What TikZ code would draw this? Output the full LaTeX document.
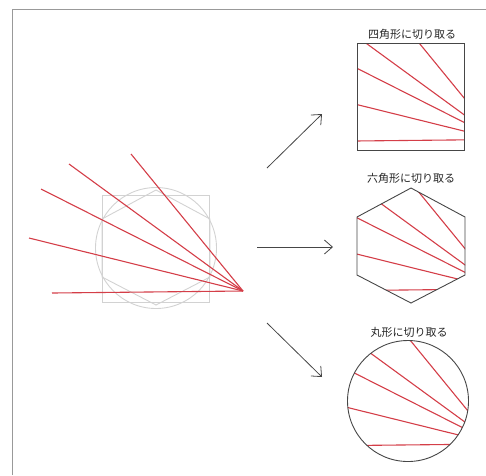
\documentclass[tikz,border=0pt]{standalone}
\usepackage{fontspec}
\newfontfamily\jpfont{Noto Sans CJK JP}
\usetikzlibrary{arrows.meta}

\definecolor{fanred}{RGB}{212,62,72}
\definecolor{edgegray}{RGB}{70,70,70}

% the five cut lines, all meeting in one point
\newcommand{\fanlines}{%
  \foreach \sx/\sy in {52/293,29/238,41/189,69/164,131/154}
    \draw[fan] (243,291) -- (\sx,\sy);}
\newcommand{\sqpath}{(102.5,195) rectangle (209.5,302)}
\newcommand{\hexpath}{(156,190) -- (210,219) -- (210,277) -- (156,305) -- (102,277) -- (102,219) -- cycle}
\newcommand{\cirpath}{(156,248) circle (60.5)}

\begin{document}
\begin{tikzpicture}[x=1pt,y=-1pt,
  fan/.style={fanred,line width=1.1pt},
  ghost/.style={draw=gray!35,line width=0.9pt},
  outline/.style={draw=edgegray,line width=0.9pt},
  arr/.style={draw=edgegray,line width=0.8pt,-{Straight Barb[length=8pt,width=14pt]}},
  title/.style={font=\jpfont\fontsize{11}{13}\selectfont,text=black!85,inner sep=1pt}]
\useasboundingbox (0,0) rectangle (486,475);
\draw[gray!80,line width=1pt] (12,475) -- (12,9) -- (486,9);

% source figure
\draw[ghost] \sqpath;
\draw[ghost] \cirpath;
\draw[ghost] \hexpath;
\fanlines

% square
\begin{scope}[shift={(255,-151.5)}]
  \begin{scope}
    \clip \sqpath;
    \fanlines
  \end{scope}
  \draw[outline] \sqpath;
\end{scope}
\node[title] (tsq) at (412,34) {四角形に切り取る};

% hexagon
\begin{scope}[shift={(255,-2)}]
  \begin{scope}
    \clip \hexpath;
    \fanlines
  \end{scope}
  \draw[outline] \hexpath;
\end{scope}
\node[title] (thex) at (411,178) {六角形に切り取る};

% circle
\begin{scope}[shift={(252,153)}]
  \begin{scope}
    \clip \cirpath;
    \fanlines
  \end{scope}
  \draw[outline] \cirpath;
\end{scope}
\node[title] (tcir) at (409,332) {丸形に切り取る};

% arrows
\coordinate (a1s) at (267,168);
\coordinate (a1e) at (322,114);
\coordinate (a2s) at (257,247);
\coordinate (a2e) at (333,247);
\coordinate (a3s) at (267,323);
\coordinate (a3e) at (322,377);
\draw[arr] (a1s) -- (a1e);
\draw[arr] (a2s) -- (a2e);
\draw[arr] (a3s) -- (a3e);
\end{tikzpicture}
\end{document}
